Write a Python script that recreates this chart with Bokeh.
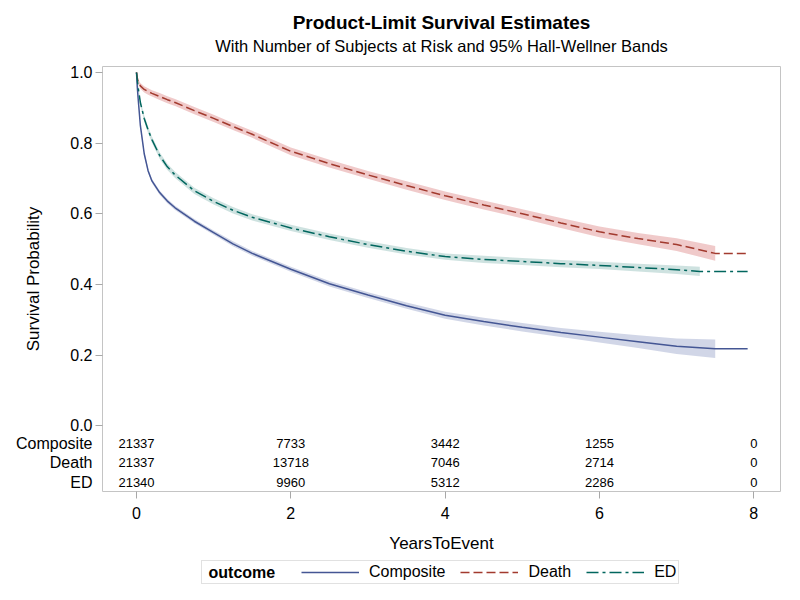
from bokeh.plotting import figure
from bokeh.layouts import column
from bokeh.models import (FixedTicker, Label, Legend, LegendItem, Title,
                          ColumnDataSource, Range1d, LinearAxis)
from bokeh.core.properties import value
from bokeh.embed import file_html
from bokeh.resources import INLINE

FONT = "Liberation Sans"

# ---------------- text ----------------
title_text = "Product-Limit Survival Estimates"
subtitle_text = "With Number of Subjects at Risk and 95% Hall-Wellner Bands"
x_label = "YearsToEvent"
y_label = "Survival Probability"
legend_title = "outcome"
groups = ["Composite", "Death", "ED"]

# ---------------- survival estimates ----------------
times = [0.0, 0.01, 0.02, 0.05, 0.1, 0.15, 0.2, 0.3, 0.4, 0.5, 0.75, 1.0,
         1.25, 1.5, 2.0, 2.5, 3.0, 3.5, 4.0, 4.5, 5.0, 5.5, 6.0, 6.5, 7.0]

composite_t = times + [7.5]
composite_s = [1.0, 0.96, 0.93, 0.85, 0.77, 0.722, 0.693, 0.660, 0.636, 0.617,
               0.579, 0.547, 0.515, 0.488, 0.443, 0.402, 0.370, 0.340, 0.313,
               0.295, 0.279, 0.264, 0.251, 0.238, 0.225, 0.218]
composite_hw = [0.0, 0.005, 0.006, 0.006, 0.006, 0.006, 0.006, 0.006, 0.006,
                0.006, 0.006, 0.006, 0.007, 0.007, 0.007, 0.008, 0.008, 0.009,
                0.010, 0.011, 0.012, 0.013, 0.015, 0.018, 0.022, 0.026]

death_t = times + [7.5]
death_s = [1.0, 0.985, 0.975, 0.962, 0.952, 0.946, 0.941, 0.932, 0.923, 0.915,
           0.892, 0.870, 0.847, 0.825, 0.777, 0.742, 0.710, 0.680, 0.651,
           0.625, 0.600, 0.574, 0.549, 0.530, 0.513, 0.488]
death_hw = [0.0, 0.005, 0.006, 0.008, 0.009, 0.009, 0.009, 0.010, 0.010, 0.010,
            0.010, 0.010, 0.010, 0.010, 0.011, 0.011, 0.011, 0.012, 0.012,
            0.013, 0.013, 0.014, 0.015, 0.016, 0.018, 0.021]

ed_t = times + [7.3]
ed_s = [1.0, 0.98, 0.96, 0.915, 0.87, 0.838, 0.81, 0.765, 0.733, 0.71, 0.665,
        0.635, 0.61, 0.59, 0.56, 0.535, 0.513, 0.494, 0.479, 0.471, 0.465,
        0.459, 0.454, 0.448, 0.442, 0.437]
ed_hw = [0.0, 0.005, 0.006, 0.008, 0.009, 0.009, 0.009, 0.009, 0.009, 0.009,
         0.009, 0.009, 0.009, 0.009, 0.009, 0.009, 0.009, 0.009, 0.009, 0.010,
         0.010, 0.010, 0.010, 0.011, 0.012, 0.013]

last_followup = 7.92   # censored tail end shared by all curves

# ---------------- at-risk table ----------------
risk_times = [0, 2, 4, 6, 8]
risk_composite = [21337, 7733, 3442, 1255, 0]
risk_death = [21337, 13718, 7046, 2714, 0]
risk_ed = [21340, 9960, 5312, 2286, 0]

x_ticks = [0, 2, 4, 6, 8]
y_ticks = [0.0, 0.2, 0.4, 0.6, 0.8, 1.0]

# ---------------- styles ----------------
line_colors = ["#445694", "#A23A2E", "#01665E"]
band_colors = ["#6F7EB3", "#D05B5B", "#66A5A0"]
dashes = ["solid", "9 4", "12 4 3 4"]
FRAME_GRAY = "#c4c4c4"
TICK_GRAY = "#a8a8a8"
row_y = [-0.0507, -0.1042, -0.1606]   # vertical slots of the at-risk rows

p = figure(width=784, height=555, output_backend="svg", toolbar_location=None,
           x_range=Range1d(-0.4406, 8.346), y_range=Range1d(-0.1859, 1.0169),
           min_border_left=102, min_border_right=4, min_border_top=66,
           min_border_bottom=62, background_fill_color="white",
           border_fill_color="white")
p.title.text = title_text
p.title.align = "center"
p.title.text_font = FONT
p.title.text_font_size = "19px"
p.title.text_font_style = "bold"
p.title.text_color = "#000000"
try:
    p.title.standoff = -21
except Exception:
    p.title.standoff = 0

p.grid.visible = False
p.outline_line_color = FRAME_GRAY
p.outline_line_width = 1

series = [
    (composite_t, composite_s, composite_hw),
    (death_t, death_s, death_hw),
    (ed_t, ed_s, ed_hw),
]

for i, (t, s, hw) in enumerate(series):
    lo = [a - b for a, b in zip(s, hw)]
    hi = [a + b for a, b in zip(s, hw)]
    p.varea(x=t, y1=lo, y2=hi, fill_color=band_colors[i], fill_alpha=0.32)
for i, (t, s, hw) in enumerate(series):
    xs = t + [last_followup]
    ys = s + [s[-1]]
    p.line(x=xs, y=ys, line_color=line_colors[i], line_width=1.5,
           line_dash=dashes[i])

# at-risk numbers inside the frame
for counts, ry in zip([risk_composite, risk_death, risk_ed], row_y):
    src = ColumnDataSource(dict(x=risk_times, y=[ry] * len(risk_times),
                                t=[str(c) for c in counts]))
    p.text(x="x", y="y", text="t", source=src, text_align="center",
           text_baseline="middle", text_font=value(FONT),
           text_font_size=value("13px"), text_color="#000000")

# x axis
xa = p.xaxis[0]
xa.ticker = FixedTicker(ticks=x_ticks)
xa.axis_line_color = None
xa.major_tick_line_color = TICK_GRAY
xa.major_tick_out = 7
xa.major_tick_in = 0
xa.minor_tick_line_color = None
xa.major_label_text_font = FONT
xa.major_label_text_font_size = "16px"
xa.major_label_text_color = "#000000"
xa.major_label_standoff = 8
xa.axis_label = x_label
xa.axis_label_text_font = FONT
xa.axis_label_text_font_size = "17px"
xa.axis_label_text_font_style = "normal"
xa.axis_label_text_color = "#000000"
xa.axis_label_standoff = 12

# inner y axis: tick marks only
ya = p.yaxis[0]
ya.ticker = FixedTicker(ticks=y_ticks)
ya.axis_line_color = None
ya.major_tick_line_color = TICK_GRAY
ya.major_tick_out = 7
ya.major_tick_in = 0
ya.minor_tick_line_color = None
ya.major_label_overrides = {t: "" for t in y_ticks}
ya.major_label_standoff = 0

# outer y axis: probability labels + at-risk row names, and the axis title
label_map = {t: f"{t:.1f}" for t in y_ticks}
label_map.update({ry: g for ry, g in zip(row_y, groups)})
yb = LinearAxis(ticker=FixedTicker(ticks=y_ticks + row_y))
yb.major_label_overrides = label_map
yb.axis_line_color = None
yb.major_tick_line_color = None
yb.major_tick_out = 0
yb.major_tick_in = 0
yb.minor_tick_line_color = None
yb.major_label_text_font = FONT
yb.major_label_text_font_size = "16px"
yb.major_label_text_color = "#000000"
yb.major_label_standoff = 3
yb.axis_label = y_label
yb.axis_label_text_font = FONT
yb.axis_label_text_font_size = "17px"
yb.axis_label_text_font_style = "normal"
yb.axis_label_text_color = "#000000"
yb.axis_label_standoff = -30
p.add_layout(yb, "left")

# subtitle
p.add_layout(Title(text=subtitle_text, align="center", text_font=FONT,
                   text_font_size="16.5px", text_font_style="normal",
                   text_color="#000000", standoff=24), "above")

# ---------------- legend strip (data units = page pixels) ----------------
LH = 29
q = figure(width=784, height=LH, output_backend="svg", toolbar_location=None,
           x_range=Range1d(102, 780), y_range=Range1d(0, LH),
           x_axis_type=None, y_axis_type=None, min_border=0,
           min_border_left=102, min_border_right=4,
           background_fill_color="white", border_fill_color="white")
q.outline_line_color = None
q.grid.visible = False

hidden_x, hidden_y = [-100, -90], [-100, -100]   # legend-only renderers, off range
dummy = q.line(x=hidden_x, y=hidden_y, line_alpha=0)
items = [LegendItem(label=" ", renderers=[dummy])]
for i, name in enumerate(groups):
    r = q.line(x=hidden_x, y=hidden_y, line_color=line_colors[i],
               line_width=1.5, line_dash=dashes[i])
    items.append(LegendItem(label=name, renderers=[r]))
legend = Legend(items=items, orientation="horizontal", location=(99, 0),
                glyph_width=58, glyph_height=14, label_height=14,
                label_width=14, label_standoff=10, spacing=15, padding=2,
                margin=0, border_line_color=FRAME_GRAY,
                label_text_font=FONT, label_text_font_size="16px",
                label_text_color="#000000", background_fill_alpha=0.0)
q.add_layout(legend)
q.add_layout(Label(x=208, y=12, text=legend_title, text_align="left",
                   text_baseline="middle", text_font=FONT,
                   text_font_size="16px", text_font_style="bold",
                   text_color="#000000", level="overlay"))

layout = column(p, q, spacing=0)
open("out.html", "w").write(file_html(layout, INLINE))
